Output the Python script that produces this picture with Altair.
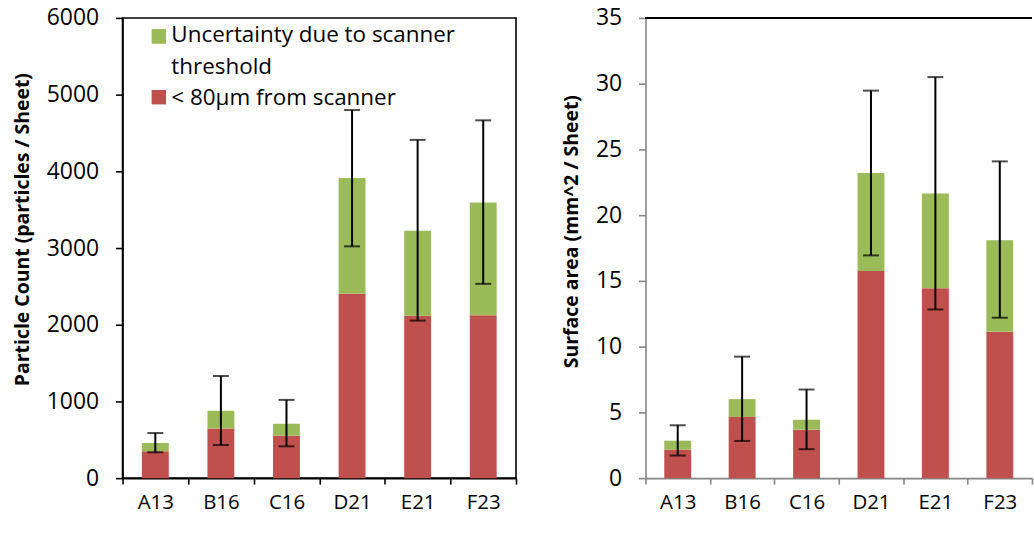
import altair as alt
import pandas as pd

categories = ["A13", "B16", "C16", "D21", "E21", "F23"]

# Left panel: particle count
count_red = [350, 648, 553, 2404, 2118, 2123]
count_total = [458, 878, 709, 3913, 3225, 3593]
count_err_lo = [337, 432, 415, 3022, 2054, 2533]
count_err_hi = [588, 1332, 1020, 4799, 4410, 4665]

# Right panel: surface area
area_red = [2.17, 4.65, 3.69, 15.76, 14.44, 11.14]
area_total = [2.85, 6.01, 4.44, 23.2, 21.64, 18.1]
area_err_lo = [1.72, 2.83, 2.20, 16.94, 12.83, 12.2]
area_err_hi = [4.02, 9.24, 6.74, 29.47, 30.5, 24.09]

legend_labels = ["Uncertainty due to scanner", "threshold", "< 80µm from scanner"]

RED = "#C0504D"
GREEN = "#9BBB59"
FONT = "Open Sans"


def panel(red, total, lo, hi, domain, step, ytitle, width, height, axis_color, boxed, title_y):
    df = pd.DataFrame({"cat": categories, "red": red, "total": total, "lo": lo, "hi": hi})
    base = alt.Chart(df)
    x = alt.X(
        "cat:N", sort=categories, title=None,
        scale=alt.Scale(paddingInner=0, paddingOuter=0),
        axis=alt.Axis(labelAngle=0, tickBand="extent", tickSize=6, tickColor=axis_color,
                      domainColor=axis_color, domainWidth=1.6, tickWidth=1.6,
                      labelFont=FONT, labelFontSize=20.5, labelColor="#000000", labelPadding=8),
    )
    yscale = alt.Scale(domain=domain, nice=False)
    yaxis = alt.Axis(values=list(range(domain[0], domain[1] + 1, step)), grid=False, format="d",
                     tickSize=7, tickColor=axis_color, domainColor=axis_color, domainWidth=1.6,
                     tickWidth=1.6, labelFont=FONT, labelFontSize=23, labelColor="#000000",
                     labelPadding=17, title=ytitle, titleFont=FONT, titleFontSize=19.5,
                     titleFontWeight="bold", titleColor="#000000", titlePadding=14,
                     titleY=title_y)
    red_bar = base.mark_bar(size=27, color=RED).encode(
        x=x, y=alt.Y("red:Q", scale=yscale, axis=yaxis))
    green_bar = base.mark_bar(size=27, color=GREEN).encode(
        x=x, y=alt.Y("red:Q", scale=yscale, axis=yaxis), y2="total:Q")
    err = base.mark_rule(color="black", strokeWidth=2).encode(
        x=x, y=alt.Y("lo:Q", scale=yscale, axis=yaxis), y2="hi:Q")
    cap_lo = base.mark_tick(color="black", size=16, thickness=2).encode(
        x=x, y=alt.Y("lo:Q", scale=yscale, axis=yaxis))
    cap_hi = base.mark_tick(color="black", size=16, thickness=2).encode(
        x=x, y=alt.Y("hi:Q", scale=yscale, axis=yaxis))
    layers = [red_bar, green_bar, err, cap_lo, cap_hi]
    if boxed:
        view = alt.ViewBackground(stroke="#000000", strokeWidth=1.6)
    else:
        view = alt.ViewBackground(stroke="transparent")
        top = alt.Chart(df).mark_rule(color="#000000", strokeWidth=2).encode(
            x=alt.value(0), x2=alt.value(width), y=alt.value(0))
        layers.append(top)
    return alt.layer(*layers).properties(width=width, height=height, view=view)


left = panel(count_red, count_total, count_err_lo, count_err_hi, [0, 6000], 1000,
             "Particle Count (particles / Sheet)", 395, 462, "#000000", True, 212)

leg_df = pd.DataFrame({"label": legend_labels})
leg_sq_g = alt.Chart(leg_df).mark_square(color=GREEN, size=200, opacity=1).encode(
    x=alt.value(36.5), y=alt.value(18.5))
leg_sq_r = alt.Chart(leg_df).mark_square(color=RED, size=200, opacity=1).encode(
    x=alt.value(36.5), y=alt.value(79.5))
leg_t1 = alt.Chart(pd.DataFrame({"label": [legend_labels[0]]})).mark_text(
    align="left", baseline="alphabetic", font=FONT, fontSize=22.5, color="#000000").encode(
    text="label:N", x=alt.value(49), y=alt.value(24))
leg_t2 = alt.Chart(pd.DataFrame({"label": [legend_labels[1]]})).mark_text(
    align="left", baseline="alphabetic", font=FONT, fontSize=22.5, color="#000000").encode(
    text="label:N", x=alt.value(49), y=alt.value(56.5))
leg_t3 = alt.Chart(pd.DataFrame({"label": [legend_labels[2]]})).mark_text(
    align="left", baseline="alphabetic", font=FONT, fontSize=22.5, color="#000000").encode(
    text="label:N", x=alt.value(49), y=alt.value(87))

left = alt.layer(left, leg_sq_g, leg_sq_r, leg_t1, leg_t2, leg_t3).properties(
    view=alt.ViewBackground(stroke="#000000", strokeWidth=1.6))

right = panel(area_red, area_total, area_err_lo, area_err_hi, [0, 35], 5,
              "Surface area (mm^2 / Sheet)", 388, 462, "#868686", False, 214)

chart = alt.hconcat(left, right, spacing=42).properties(
    padding={"left": 11, "top": 5, "right": 0, "bottom": 0},
    background="white",
).configure_view(strokeWidth=1.6)

chart.save("out.html", embed_options={"renderer": "svg", "actions": False})
